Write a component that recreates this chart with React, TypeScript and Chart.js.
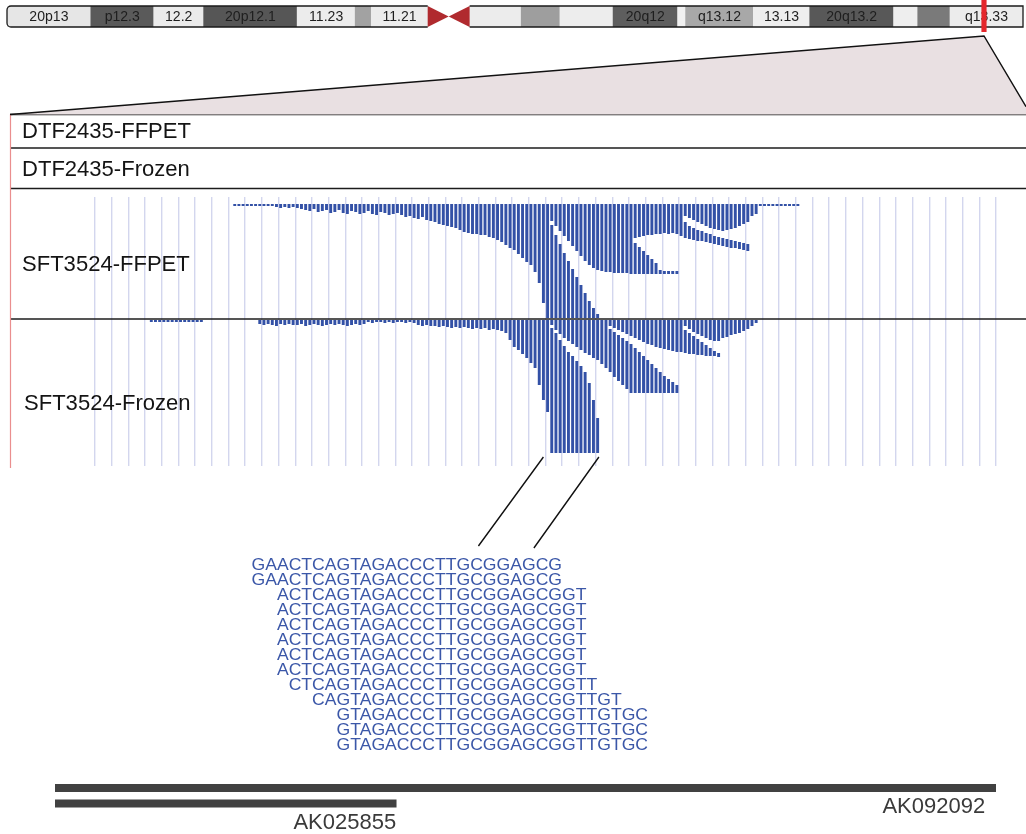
import React, { useEffect, useRef } from 'react';
import { Chart, registerables } from 'chart.js';

Chart.register(...registerables);

const FONT = '"Liberation Sans", Arial, Helvetica, sans-serif';
const READ_BLUE = '#3351a6';
const SEQ_BLUE = '#3b57a8';

// ---------------- chromosome 20 ideogram (Mb) ----------------
const chromLengthMb = 63.03;
const bandNames = ['p13', 'p12.3', 'p12.2', 'p12.1', 'p11.23', 'p11.22', 'p11.21', 'q11.21', 'q11.22', 'q11.23', 'q12', 'q13.11', 'q13.12', 'q13.13', 'q13.2', 'q13.31', 'q13.32', 'q13.33'];
const bandStartsMb = [0, 5.2, 9.1, 12.2, 18.0, 21.6, 22.6, 28.7, 31.9, 34.3, 37.6, 41.6, 42.1, 46.3, 49.8, 55.0, 56.5, 58.5];
const bandEndsMb = [5.2, 9.1, 12.2, 18.0, 21.6, 22.6, 26.1, 31.9, 34.3, 37.6, 41.6, 42.1, 46.3, 49.8, 55.0, 56.5, 58.5, 63.03];
const bandShades = ['#e6e6e6', '#5a5a5a', '#ebebeb', '#565656', '#ececec', '#a2a2a2', '#ececec', '#ececec', '#9e9e9e', '#ededed', '#5e5e5e', '#f0f0f0', '#a8a8a8', '#eeeeee', '#585858', '#eeeeee', '#7a7a7a', '#ececec'];
const bandLabels = ['20p13', 'p12.3', '12.2', '20p12.1', '11.23', '', '11.21', '', '', '', '20q12', '', 'q13.12', '13.13', '20q13.2', '', '', 'q13.33'];
const centromereMb = [26.1, 28.7];
const focusRegionMb = [60.45, 60.77];

// ---------------- tracks ----------------
const trackNames = ['DTF2435-FFPET', 'DTF2435-Frozen', 'SFT3524-FFPET', 'SFT3524-Frozen'];

// read bins across the zoomed window (4 bins per grid cell)
const binCount = 216;
const binsPerGridCell = 4;

// SFT3524-FFPET: reads hang from the top row; bottom row of each bin's first block
const ffpetFirstBin = 33;
const ffpetTopRow = 7;
const ffpetUpperBottom = [
  9, 9, 9, 9, 9, 9, 9, 9, 9, 9,
  10, 11, 10, 11, 10, 11, 12,
  13, 14, 12, 15, 14, 13, 16, 15, 13, 16, 17, 14, 15, 17, 16, 14, 17, 18, 15, 16, 18, 17, 16,
  18, 20, 19, 21, 22, 20, 23, 24, 25,
  27, 28, 29, 30, 31, 33, 35,
  36, 37, 37, 38, 38, 40,
  41, 43, 45, 48, 51,
  53, 57, 61, 65, 68,
  75, 86, 106, 121,
  24, 29, 34, 39, 44, 49, 54, 59, 64, 68, 71, 73,
  74, 75, 75, 76, 76, 76, 76, 77,
  41, 40, 39, 38, 38, 37, 37, 36, 37, 36, 37,
  39,
  19, 21, 23, 25, 27, 29, 31, 32, 33, 34, 33, 32, 31, 29, 27, 25,
  19, 17,
  9, 9, 9, 9, 9, 9, 9, 9, 9, 9,
];
// [bin, top row, bottom row] of the second block in a bin
const ffpetLowerReads = [
  [109, 28, 121], [110, 38, 121], [111, 47, 121], [112, 56, 121], [113, 64, 121], [114, 72, 121],
  [115, 80, 121], [116, 88, 121], [117, 96, 121], [118, 104, 121], [119, 111, 121], [120, 117, 121],
  [129, 46, 77], [130, 50, 77], [131, 54, 77], [132, 58, 77], [133, 62, 77], [134, 66, 77],
  [135, 73, 77], [136, 74, 77], [137, 74, 77], [138, 74, 77], [139, 74, 77],
  [141, 25, 41], [142, 29, 42], [143, 31, 43], [144, 33, 44], [145, 34, 44], [146, 36, 45],
  [147, 37, 46], [148, 39, 47], [149, 40, 48], [150, 41, 49], [151, 42, 50], [152, 43, 51],
  [153, 44, 51], [154, 45, 52], [155, 46, 53], [156, 47, 54],
];

// SFT3524-Frozen
const frozenFirstBin = 13;
const frozenTopRow = 123;
const frozenUpperBottom = [
  125, 125, 125, 125, 125, 125, 125, 125, 125, 125, 125, 125, 125,
  null, null, null, null, null, null, null, null, null, null, null, null, null,
  127, 128, 127, 128, 129, 127, 128, 127, 128, 128, 127, 129, 128, 127, 128, 129, 128, 127, 128, 127, 128, 129, 128, 127, 128, 127,
  125, 126, 125, 125, 126, 125, 126, 125, 125, 126, 125, 126,
  128, 129, 128, 129, 129, 130, 129, 130, 131, 130, 131, 130, 131, 132, 131, 132, 131, 133, 132, 133, 134,
  136, 143, 150, 153, 157, 161, 166, 171, 188, 203, 215,
  128, 133, 137, 141, 144, 147, 150, 153, 156, 158, 161, 163,
  167, 171,
  129, 131, 133, 135, 137, 139, 141, 143, 145, 147, 148, 150, 151, 152, 153, 154, 155,
  155,
  129, 132, 135, 137, 139, 141, 143, 144, 144,
  141, 140, 138, 137, 136, 134, 132, 129,
  126,
];
const frozenLowerReads = [
  [109, 131, 256], [110, 136, 256], [111, 143, 256], [112, 149, 256], [113, 155, 256], [114, 159, 256],
  [115, 164, 256], [116, 169, 256], [117, 175, 256], [118, 186, 256], [119, 203, 256], [120, 221, 256],
  [123, 132, 175], [124, 135, 180], [125, 138, 184], [126, 141, 188], [127, 144, 192], [128, 147, 196],
  [129, 151, 196], [130, 155, 196], [131, 159, 196], [132, 163, 196], [133, 167, 196], [134, 171, 196],
  [135, 175, 196], [136, 179, 196], [137, 182, 196], [138, 185, 196], [139, 188, 196],
  [141, 133, 156], [142, 136, 157], [143, 139, 157], [144, 142, 158], [145, 145, 158], [146, 148, 159],
  [147, 151, 159], [148, 154, 159], [149, 156, 160],
];
const depthRows = 269;
// bins whose reads are spelled out below
const highlightBins = [107, 120.3];

// ---------------- read sequences ----------------
const referenceSeq = 'GAACTCAGTAGACCCTTGCGGAGCGGTTGTGC';
const readSequences = [
  'GAACTCAGTAGACCCTTGCGGAGCG',
  'GAACTCAGTAGACCCTTGCGGAGCG',
  'ACTCAGTAGACCCTTGCGGAGCGGT',
  'ACTCAGTAGACCCTTGCGGAGCGGT',
  'ACTCAGTAGACCCTTGCGGAGCGGT',
  'ACTCAGTAGACCCTTGCGGAGCGGT',
  'ACTCAGTAGACCCTTGCGGAGCGGT',
  'ACTCAGTAGACCCTTGCGGAGCGGT',
  'CTCAGTAGACCCTTGCGGAGCGGTT',
  'CAGTAGACCCTTGCGGAGCGGTTGT',
  'GTAGACCCTTGCGGAGCGGTTGTGC',
  'GTAGACCCTTGCGGAGCGGTTGTGC',
  'GTAGACCCTTGCGGAGCGGTTGTGC',
];
const readOffsets = [0, 0, 2, 2, 2, 2, 2, 2, 3, 5, 7, 7, 7];

// ---------------- genes (in read-bin units) ----------------
const geneNames = ['AK092092', 'AK025855'];
const geneStartBins = [-9.6, -9.6];
const geneEndBins = [216, 72.2];
const geneLabelBins = [213.4, 72.2];

// ---------------- layout ----------------
const W = 1026;
const H = 834;
const READ_AREA = { left: 95, right: 996, top: 197, bottom: 466 };
const FRAME = { left: 10, lines: [114.5, 148, 188.5], divider: 319, bottom: 468 };
const LABEL_Y = [132.5, 170.5, 265, 404];
const SEQ = { x0: 251.5, y0: 565, dy: 15, size: 17, hScale: 1.035 };

function drawText(ctx: CanvasRenderingContext2D, text: string, x: number, y: number, size: number, color: string, align: CanvasTextAlign = 'left', hScale = 1) {
  ctx.save();
  ctx.font = `${size}px ${FONT}`;
  ctx.fillStyle = color;
  ctx.textBaseline = 'middle';
  ctx.textAlign = align;
  ctx.translate(x, y);
  ctx.scale(hScale, 1);
  ctx.fillText(text, 0, 0);
  ctx.restore();
}

function upperData(first: number, top: number, bottoms: (number | null)[]) {
  const d: ([number, number] | null)[] = new Array(binCount).fill(null);
  bottoms.forEach((b, i) => {
    if (b !== null) d[first + i] = [top, b];
  });
  return d;
}
function lowerData(reads: number[][]) {
  const d: ([number, number] | null)[] = new Array(binCount).fill(null);
  reads.forEach(([bin, t, b]) => {
    d[bin] = [t, b];
  });
  return d;
}

const ideogramPlugin = {
  id: 'ideogramDecor',
  afterDatasetsDraw(chart: any) {
    const { ctx, chartArea: a } = chart;
    const x = chart.scales.x;
    const top = a.top;
    const bottom = a.bottom;
    const mid = (top + bottom) / 2;
    const x0 = x.getPixelForValue(0);
    const xe = x.getPixelForValue(chromLengthMb);
    const cs = x.getPixelForValue(centromereMb[0]);
    const ce = x.getPixelForValue(centromereMb[1]);
    const cm = (cs + ce) / 2;
    ctx.save();
    ctx.fillStyle = '#b02a2e';
    ctx.beginPath();
    ctx.moveTo(cs, top); ctx.lineTo(cm, mid); ctx.lineTo(cs, bottom); ctx.closePath(); ctx.fill();
    ctx.beginPath();
    ctx.moveTo(ce, top); ctx.lineTo(cm, mid); ctx.lineTo(ce, bottom); ctx.closePath(); ctx.fill();
    ctx.strokeStyle = '#1a1a1a';
    ctx.lineWidth = 1.3;
    const r = 4;
    ctx.beginPath();
    ctx.moveTo(cs, top);
    ctx.lineTo(x0 + r, top);
    ctx.arcTo(x0, top, x0, top + r, r);
    ctx.lineTo(x0, bottom - r);
    ctx.arcTo(x0, bottom, x0 + r, bottom, r);
    ctx.lineTo(cs, bottom);
    ctx.stroke();
    ctx.beginPath();
    ctx.moveTo(ce, top); ctx.lineTo(xe, top); ctx.lineTo(xe, bottom); ctx.lineTo(ce, bottom);
    ctx.stroke();
    ctx.restore();

    bandLabels.forEach((lab, i) => {
      if (!lab) return;
      const cx = (x.getPixelForValue(bandStartsMb[i]) + x.getPixelForValue(bandEndsMb[i])) / 2;
      drawText(ctx, lab, cx, mid + 0.5, 14.5, '#1e1e1e', 'center', 0.97);
    });

    // focus marker and zoom wedge
    const f0 = x.getPixelForValue(focusRegionMb[0]);
    const f1 = x.getPixelForValue(focusRegionMb[1]);
    const apex = (f0 + f1) / 2;
    const wedgeTop = bottom + 9;
    const frameTop = FRAME.lines[0];
    ctx.save();
    ctx.fillStyle = '#e9e0e2';
    ctx.beginPath();
    ctx.moveTo(apex, wedgeTop);
    ctx.lineTo(FRAME.left, frameTop);
    ctx.lineTo(W, frameTop);
    ctx.lineTo(W, 106.7);
    ctx.closePath();
    ctx.fill();
    ctx.strokeStyle = '#111';
    ctx.lineWidth = 1.4;
    ctx.beginPath();
    ctx.moveTo(FRAME.left, frameTop);
    ctx.lineTo(apex, wedgeTop);
    ctx.lineTo(W, 106.7);
    ctx.stroke();
    ctx.fillStyle = '#e4262b';
    ctx.fillRect(f0, 0, f1 - f0, bottom + 5);
    ctx.restore();
  },
};

const mainPlugin = {
  id: 'mainDecor',
  beforeDraw(chart: any) {
    const { ctx } = chart;
    ctx.save();
    ctx.fillStyle = '#ffffff';
    ctx.fillRect(0, 0, W, H);
    ctx.restore();
  },
  afterDraw(chart: any) {
    const { ctx, chartArea: a } = chart;
    const x = chart.scales.x;
    ctx.save();
    ctx.strokeStyle = '#1c1c1c';
    ctx.lineWidth = 1.6;
    [...FRAME.lines, FRAME.divider].forEach((y) => {
      ctx.beginPath();
      ctx.moveTo(FRAME.left, y);
      ctx.lineTo(W, y);
      ctx.stroke();
    });
    ctx.strokeStyle = '#ea8e8e';
    ctx.lineWidth = 1.2;
    ctx.beginPath();
    ctx.moveTo(FRAME.left + 0.5, FRAME.lines[0]);
    ctx.lineTo(FRAME.left + 0.5, FRAME.bottom);
    ctx.stroke();
    ctx.restore();

    trackNames.forEach((name, i) => {
      drawText(ctx, name, i === 3 ? 24 : 22, LABEL_Y[i], 21.5, '#141414', 'left', 1.025);
    });

    // connectors from highlighted bins to the read sequences
    const hx0 = x.getPixelForValue(highlightBins[0]);
    const hx1 = x.getPixelForValue(highlightBins[1]);
    ctx.save();
    ctx.strokeStyle = '#111';
    ctx.lineWidth = 1.4;
    ctx.beginPath();
    ctx.moveTo(hx0, a.bottom - 9);
    ctx.lineTo(hx0 - 65, SEQ.y0 - 19);
    ctx.moveTo(hx1, a.bottom - 9);
    ctx.lineTo(hx1 - 65, SEQ.y0 - 17);
    ctx.stroke();
    ctx.restore();

    ctx.save();
    ctx.font = `${SEQ.size}px ${FONT}`;
    readSequences.forEach((s, i) => {
      const off = ctx.measureText(referenceSeq.slice(0, readOffsets[i])).width * SEQ.hScale;
      drawText(ctx, s, SEQ.x0 + off, SEQ.y0 + i * SEQ.dy, SEQ.size, SEQ_BLUE, 'left', SEQ.hScale);
    });
    ctx.restore();
  },
};

const genePlugin = {
  id: 'geneLabels',
  afterDatasetsDraw(chart: any) {
    const { ctx } = chart;
    const x = chart.scales.x;
    const y = chart.scales.y;
    geneNames.forEach((g, i) => {
      drawText(ctx, g, x.getPixelForValue(geneLabelBins[i]), y.getPixelForValue(i) + 19, 22, '#3a3a3a', 'right', 1.0);
    });
  },
};

export default function App() {
  const mainRef = useRef<HTMLCanvasElement>(null);
  const ideoRef = useRef<HTMLCanvasElement>(null);
  const geneRef = useRef<HTMLCanvasElement>(null);

  useEffect(() => {
    document.body.style.margin = '0';
    const charts: Chart[] = [];
    const binLabels = Array.from({ length: binCount }, (_, i) => String(i));
    const barCommon = {
      grouped: false,
      categoryPercentage: 1,
      barPercentage: 0.7,
      borderWidth: 0,
      backgroundColor: READ_BLUE,
    };

    charts.push(
      new Chart(mainRef.current as HTMLCanvasElement, {
        type: 'bar',
        data: {
          labels: binLabels,
          datasets: [
            { label: 'SFT3524-FFPET', data: upperData(ffpetFirstBin, ffpetTopRow, ffpetUpperBottom), ...barCommon },
            { label: 'SFT3524-FFPET b', data: lowerData(ffpetLowerReads), ...barCommon },
            { label: 'SFT3524-Frozen', data: upperData(frozenFirstBin, frozenTopRow, frozenUpperBottom), ...barCommon },
            { label: 'SFT3524-Frozen b', data: lowerData(frozenLowerReads), ...barCommon },
          ] as any,
        },
        options: {
          animation: false,
          responsive: false,
          events: [],
          layout: { padding: { left: READ_AREA.left, right: W - READ_AREA.right, top: READ_AREA.top, bottom: H - READ_AREA.bottom } },
          plugins: { legend: { display: false }, tooltip: { enabled: false } },
          scales: {
            x: {
              type: 'category',
              display: true,
              offset: true,
              grid: {
                offset: true,
                drawTicks: false,
                lineWidth: 1.4,
                color: (c: any) => (c.index === undefined || c.index % binsPerGridCell === 0 ? '#d3d6ee' : 'rgba(0,0,0,0)'),
              },
              border: { display: false },
              ticks: { display: false, autoSkip: false },
            },
            y: { type: 'linear', display: false, reverse: true, min: 0, max: depthRows },
          },
        } as any,
        plugins: [mainPlugin],
      })
    );

    charts.push(
      new Chart(ideoRef.current as HTMLCanvasElement, {
        type: 'bar',
        data: {
          labels: ['chr20'],
          datasets: [
            {
              label: 'bands',
              data: bandNames.map((_, i) => ({ x: [bandStartsMb[i], bandEndsMb[i]], y: 'chr20' })),
              backgroundColor: bandShades,
              borderWidth: 0,
              barPercentage: 1,
              categoryPercentage: 1,
            },
          ] as any,
        },
        options: {
          animation: false,
          responsive: false,
          events: [],
          indexAxis: 'y',
          layout: { padding: { left: 7, right: 3, top: 6, bottom: 116 - 27 } },
          plugins: { legend: { display: false }, tooltip: { enabled: false } },
          scales: {
            x: { type: 'linear', display: false, min: 0, max: chromLengthMb },
            y: { type: 'category', display: false },
          },
        } as any,
        plugins: [ideogramPlugin],
      })
    );

    charts.push(
      new Chart(geneRef.current as HTMLCanvasElement, {
        type: 'bar',
        data: {
          labels: geneNames,
          datasets: [
            {
              label: 'genes',
              data: geneNames.map((_, i) => [geneStartBins[i], geneEndBins[i]]),
              backgroundColor: '#414141',
              borderWidth: 0,
              barThickness: 7.5,
            },
          ] as any,
        },
        options: {
          animation: false,
          responsive: false,
          events: [],
          indexAxis: 'y',
          layout: { padding: { left: 55, right: W - 996, top: 10.25, bottom: 22.75 } },
          plugins: { legend: { display: false }, tooltip: { enabled: false } },
          scales: {
            x: { type: 'linear', display: false, min: geneStartBins[0], max: binCount },
            y: { type: 'category', display: false },
          },
        } as any,
        plugins: [genePlugin],
      })
    );

    return () => charts.forEach((c) => c.destroy());
  }, []);

  return (
    <div style={{ position: 'relative', width: W, height: H, overflow: 'hidden', background: '#fff' }}>
      <canvas ref={mainRef} width={W} height={H} style={{ position: 'absolute', left: 0, top: 0 }} />
      <canvas ref={ideoRef} width={W} height={116} style={{ position: 'absolute', left: 0, top: 0 }} />
      <canvas ref={geneRef} width={W} height={64} style={{ position: 'absolute', left: 0, top: 770 }} />
    </div>
  );
}
